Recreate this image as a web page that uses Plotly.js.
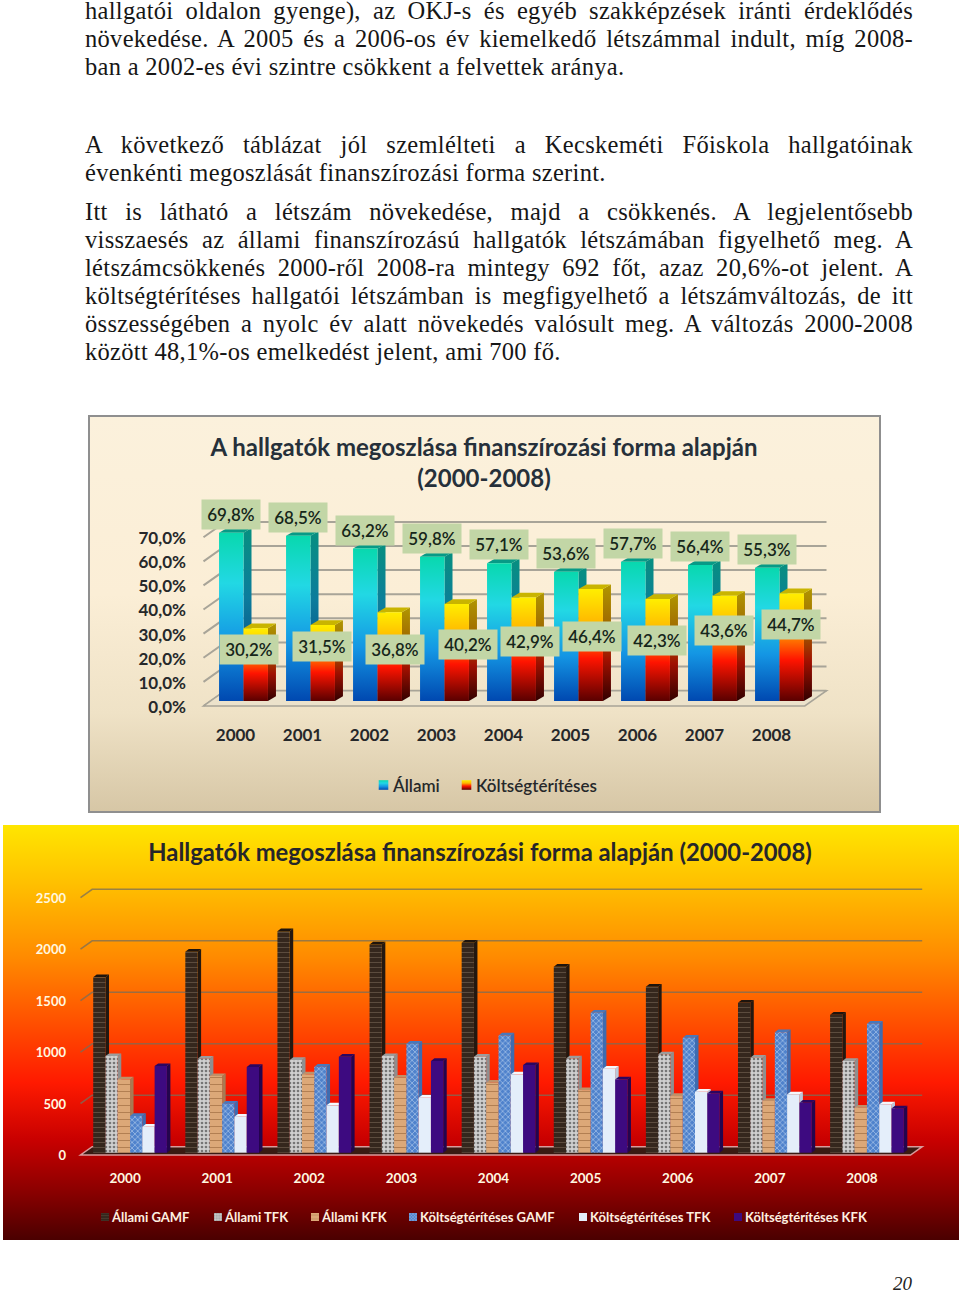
<!DOCTYPE html>
<html lang="hu">
<head>
<meta charset="utf-8">
<script src="https://cdn.plot.ly/plotly-3.0.1.min.js"></script>
<style>
html,body{margin:0;padding:0;background:#fff;width:960px;height:1291px}
.ln{position:absolute;left:85px;width:828px;height:22px;line-height:22px;font-family:"Liberation Serif",serif;font-size:24.5px;letter-spacing:.3px;color:#161616;white-space:nowrap}
.ln.j{white-space:normal;text-align:justify;text-align-last:justify}
.main-svg text{font-variant-ligatures:none}
#c1{position:absolute;left:88px;top:415px;width:793px;height:398px;box-sizing:border-box;outline:2px solid #8f8f8f;outline-offset:-2px;
 background:linear-gradient(180deg,#fbf1dc 0%,#fbeed6 45%,#efe2c6 75%,#d6c6a5 100%)}
#c2{position:absolute;left:3px;top:825px;width:956px;height:415px;
 background:linear-gradient(180deg,#ffe600 0%,#ffc000 14%,#ff8a00 32%,#ff1a00 62%,#c80000 76%,#8c0000 88%,#4a0000 100%)}
#pg{position:absolute;left:893px;top:1273px;line-height:24px;font:italic 19px "Liberation Serif",serif;color:#222}
</style>
</head>
<body>
<div id="page"></div>
<div id="c1"></div>
<div id="c2"></div>
<div id="pg">20</div>
<script>
/* ---------- page text ---------- */
const bodyLines = [
 ["hallgatói oldalon gyenge), az OKJ-s és egyéb szakképzések iránti érdeklődés",11,1],
 ["növekedése. A 2005 és a 2006-os év kiemelkedő létszámmal indult, míg 2008-",39,1],
 ["ban a 2002-es évi szintre csökkent a felvettek aránya.",67,0],
 ["A következő táblázat jól szemlélteti a Kecskeméti Főiskola hallgatóinak",145,1],
 ["évenkénti megoszlását finanszírozási forma szerint.",173,0],
 ["Itt is látható a létszám növekedése, majd a csökkenés. A legjelentősebb",212,1],
 ["visszaesés az állami finanszírozású hallgatók létszámában figyelhető meg. A",240,1],
 ["létszámcsökkenés 2000-ről 2008-ra mintegy 692 főt, azaz 20,6%-ot jelent. A",268,1],
 ["költségtérítéses hallgatói létszámban is megfigyelhető a létszámváltozás, de itt",296,1],
 ["összességében a nyolc év alatt növekedés valósult meg. A változás 2000-2008",324,1],
 ["között 48,1%-os emelkedést jelent, ami 700 fő.",352,0]
];

/* ---------- chart 1 data ---------- */
const years = ["2000","2001","2002","2003","2004","2005","2006","2007","2008"];
const allami = [69.8,68.5,63.2,59.8,57.1,53.6,57.7,56.4,55.3];
const koltseg = [30.2,31.5,36.8,40.2,42.9,46.4,42.3,43.6,44.7];
const pctTicks = [0,10,20,30,40,50,60,70];
const pctTickText = ["0,0%","10,0%","20,0%","30,0%","40,0%","50,0%","60,0%","70,0%"];
const title1 = "A hallgatók megoszlása finanszírozási forma alapján<br>(2000-2008)";
const names1 = ["Állami","Költségtérítéses"];
/* manual placement of the lower data labels, in pixels from each bar top */
const koltsegLabelDX = [5.6,11.4,17,23.6,18.7,13.5,11.7,11.3,11.7];
const koltsegLabelDY = [-21.4,-21.9,-37,-40,-44,-47,-42,-34.5,-31];

/* ---------- chart 2 data ---------- */
const allamiGAMF = [1705,1951,2152,2023,2039,1806,1612,1456,1340];
const allamiTFK  = [938,913,900,938,932,916,955,922,890];
const allamiKFK  = [712,744,760,728,680,608,550,502,437];
const koltGAMF   = [356,476,835,1058,1139,1359,1116,1171,1252];
const koltTFK    = [252,349,460,534,760,815,592,566,469];
const koltKFK    = [841,832,932,890,851,712,576,485,430];
const countTicks = [0,500,1000,1500,2000,2500];
const title2 = "Hallgatók megoszlása finanszírozási forma alapján (2000-2008)";
const names2 = ["Állami GAMF","Állami TFK","Állami KFK","Költségtérítéses GAMF","Költségtérítéses TFK","Költségtérítéses KFK"];

const FONT = "Lato, 'Open Sans', sans-serif";

const page = document.getElementById('page');
bodyLines.forEach(([t,y,j])=>{
  const d=document.createElement('div');
  d.className='ln'+(j?' j':'');
  d.style.top=(y-11)+'px';
  d.textContent=t;
  page.appendChild(d);
});

function wall(ticks, color, w, fl, bl, br, fy, by){
  return ticks.map(v=>({type:'path',layer:'below',xref:'paper',yref:'y',
    xsizemode:'pixel',ysizemode:'pixel',xanchor:0,yanchor:v,
    path:`M${fl},${fy} L${bl},${by} L${br},${by}`,
    line:{color:color,width:w}}));
}
function floor(fill, lineColor, fl, fr, bl, br, fy, by){
  return {type:'path',layer:'below',xref:'paper',yref:'y',
    xsizemode:'pixel',ysizemode:'pixel',xanchor:0,yanchor:0,
    path:`M${fl},${fy} L${fr},${fy} L${br},${by} L${bl},${by} Z`,
    fillcolor:fill,line:{color:lineColor,width:1.5}};
}

const SVGNS='http://www.w3.org/2000/svg';
function addGrad(svg,id,stops){
  let defs=svg.querySelector('defs');
  const g=document.createElementNS(SVGNS,'linearGradient');
  g.id=id;g.setAttribute('x1','0');g.setAttribute('y1','0');g.setAttribute('x2','0');g.setAttribute('y2','1');
  stops.forEach(([o,c])=>{const s=document.createElementNS(SVGNS,'stop');s.setAttribute('offset',o);s.setAttribute('stop-color',c);g.appendChild(s);});
  defs.appendChild(g);
}
function extrude(gd,dx,dy,faces){
  gd.querySelectorAll('.barlayer .trace.bars').forEach((tr,i)=>{
    tr.querySelectorAll('.point path').forEach(p=>{
      const b=p.getBBox(),x0=b.x,x1=b.x+b.width,y0=b.y,y1=b.y+b.height;
      const mk=(pts,fill)=>{const e=document.createElementNS(SVGNS,'polygon');e.setAttribute('points',pts);e.setAttribute('fill',fill);p.parentNode.insertBefore(e,p);};
      mk(`${x1},${y0} ${x1+dx},${y0-dy} ${x1+dx},${y1-dy} ${x1},${y1}`,faces[i].side);
      mk(`${x0},${y0} ${x1},${y0} ${x1+dx},${y0-dy} ${x0+dx},${y0-dy}`,faces[i].top);
    });
  });
}
/* put the library's legend items on one row at the reference's text positions */
function placeLegend(gd,textStarts,centerY,swatchShift,swatchScale){
  const lg=gd.querySelector('.legend');
  const m=/translate\(\s*([-\d.]+)[ ,]+([-\d.]+)/.exec(lg.getAttribute('transform'));
  const lx=+m[1],ly=+m[2];
  const sb=lg.querySelector('.scrollbox');
  if(sb) sb.removeAttribute('clip-path');
  lg.removeAttribute('clip-path');
  lg.querySelectorAll('.traces').forEach((t,i)=>{
    t.setAttribute('transform',`translate(${textStarts[i]-40-lx},${centerY-ly})`);
    t.querySelectorAll('.legendpoints path').forEach(p=>{
      const cur=p.getAttribute('transform')||'';
      p.setAttribute('transform',`translate(${swatchShift},0) ${cur} scale(${swatchScale})`);
    });
  });
}

/* ---------- chart 1 ---------- */
const boxColor='#c2d6a6';
const ann1=[];
years.forEach((yr,i)=>{
  ann1.push({x:i,y:allami[i],xref:'x',yref:'y',xshift:-12.3,yshift:18.5,showarrow:false,
    text:allami[i].toFixed(1).replace('.',',')+'%',bgcolor:boxColor,width:56,height:27,
    font:{family:FONT,size:17,weight:600,color:'#16261a'}});
  ann1.push({x:i,y:koltseg[i],xref:'x',yref:'y',xshift:koltsegLabelDX[i],yshift:koltsegLabelDY[i],showarrow:false,
    text:koltseg[i].toFixed(1).replace('.',',')+'%',bgcolor:boxColor,width:56,height:27,
    font:{family:FONT,size:17,weight:600,color:'#16261a'}});
});
const layout1={
  width:793,height:398,
  margin:{l:122.2,r:67.8,t:68.8,b:100.25,pad:0,autoexpand:false},
  paper_bgcolor:'rgba(0,0,0,0)',plot_bgcolor:'rgba(0,0,0,0)',
  barmode:'group',bargap:0.27,bargroupgap:0,
  title:{text:title1,font:{family:FONT,size:24,weight:700,color:'#26303a'},x:0.4994,xanchor:'center',xref:'container',y:0.897,yanchor:'top',automargin:false},
  xaxis:{type:'category',range:[-0.5,8.5],autorange:false,showgrid:false,zeroline:false,showline:false,ticks:'',ticklabelshift:-8,ticklabelstandoff:10,
    tickfont:{family:FONT,size:17,weight:700,color:'#26282a'}},
  yaxis:{range:[-5,90],tickmode:'array',tickvals:pctTicks,ticktext:pctTickText,showgrid:false,zeroline:false,showline:false,
    ticks:'',ticklabelshift:6,ticklabelstandoff:23,tickfont:{family:FONT,size:17,weight:700,color:'#26282a'}},
  shapes:[...wall(pctTicks,'#a8a498',2,-6.5,15.2,616.5,-5,10.3),
          floor('#ece2cb','#a8a498',-6.5,594.8,15.2,616.5,-5,10.3)],
  annotations:ann1,
  showlegend:true,
  legend:{orientation:'h',x:0.2,xanchor:'left',y:-0.2,yanchor:'middle',traceorder:'normal',itemwidth:30,
    font:{family:FONT,size:17,weight:600,color:'#26282a'},bgcolor:'rgba(0,0,0,0)'}
};
const data1=[
  {type:'bar',name:names1[0],x:years,y:allami,marker:{color:'#1fb4e0',line:{width:0}}},
  {type:'bar',name:names1[1],x:years,y:koltseg,marker:{color:'#ff7a00',line:{width:0}}}
];
Plotly.newPlot('c1',data1,layout1,{displayModeBar:false,staticPlot:true}).then(gd=>{
  const svg=gd.querySelector('.main-svg');
  addGrad(svg,'gA',[[0,'#08d8ae'],[0.3,'#22d8e4'],[0.65,'#1496e4'],[1,'#0048b0']]);
  addGrad(svg,'gK',[[0,'#ffee00'],[0.3,'#ffb800'],[0.62,'#ff1400'],[1,'#5a0000']]);
  addGrad(svg,'gAs',[[0,'#078f80'],[0.4,'#0c7c9c'],[1,'#063a80']]);
  addGrad(svg,'gKs',[[0,'#b09600'],[0.35,'#a06800'],[0.65,'#a01000'],[1,'#320000']]);
  const grads=['gA','gK'];
  gd.querySelectorAll('.barlayer .trace.bars').forEach((tr,i)=>{
    tr.querySelectorAll('.point path').forEach(p=>{p.style.fill=`url(#${grads[i]})`;});
  });
  extrude(gd,8,4.7,[{side:'url(#gAs)',top:'#079a86'},{side:'url(#gKs)',top:'#c9b400'}]);
  gd.querySelectorAll('.legend .traces').forEach((t,i)=>{
    t.querySelectorAll('.legendpoints path').forEach(p=>{p.style.fill=`url(#${grads[i]})`;});
  });
  placeLegend(gd,[305,388],370,10.5,0.8);
});

/* ---------- chart 2 ---------- */
const seriesStyle=[
  {color:'#35271d',pattern:{shape:'-',bgcolor:'#35271d',fgcolor:'#5c4c3e',size:5,solidity:0.2}},
  {color:'#c9c9c9',pattern:{shape:'.',bgcolor:'#cfcfcf',fgcolor:'#767676',size:4,solidity:0.35}},
  {color:'#d9a273',pattern:{shape:'-',bgcolor:'#dca878',fgcolor:'#b27f52',size:7,solidity:0.15}},
  {color:'#5d8ed6',pattern:{shape:'x',bgcolor:'#4f82cc',fgcolor:'#c4d8f0',size:4,solidity:0.25}},
  {color:'#e4eefa'},
  {color:'#3d0a80'}
];
const sideColor=['#231810','#8f8f8f','#a87a52','#3e6cb0','#b8c8da','#24054e'];
const topColor =['#1e140d','#9c9c9c','#c09068','#4878bc','#f4f8fc','#2c0660'];
const series2=[allamiGAMF,allamiTFK,allamiKFK,koltGAMF,koltTFK,koltKFK];
const data2=series2.map((vals,i)=>({type:'bar',name:names2[i],x:years,y:vals,
  marker:Object.assign({line:{width:0}},seriesStyle[i])}));
const layout2={
  width:956,height:415,
  margin:{l:80.5,r:45.5,t:59.9,b:77,pad:0,autoexpand:false},
  paper_bgcolor:'rgba(0,0,0,0)',plot_bgcolor:'rgba(0,0,0,0)',
  barmode:'group',bargap:0.2,bargroupgap:0,
  title:{text:title2,font:{family:FONT,size:23.8,weight:700,color:'#26262a'},x:0.499,xanchor:'center',xref:'container',y:0.954,yanchor:'top',automargin:false},
  xaxis:{type:'category',showgrid:false,zeroline:false,showline:false,ticks:'',ticklabelshift:-5,ticklabelstandoff:5,
    tickfont:{family:FONT,size:13.5,weight:700,color:'#fff8e0'}},
  yaxis:{range:[-100,2600],tickmode:'array',tickvals:countTicks,ticktext:countTicks.map(String),showgrid:false,zeroline:false,showline:false,
    ticks:'',ticklabelshift:3,ticklabelstandoff:17,tickfont:{family:FONT,size:13,weight:700,color:'#fff8e0'}},
  shapes:[...wall(countTicks.slice(1),'rgba(120,110,90,0.75)',1.6,-3.5,8.2,838.2,-2.3,6),
          floor('#3a1a12','#d89a9a',-3.5,826.5,8.2,838.2,-2.3,6)],
  showlegend:true,
  legend:{orientation:'h',x:0.09,xanchor:'left',y:-0.2,yanchor:'middle',traceorder:'normal',itemwidth:30,
    font:{family:FONT,size:13,weight:700,color:'#fff0e0'},bgcolor:'rgba(0,0,0,0)'}
};
Plotly.newPlot('c2',data2,layout2,{displayModeBar:false,staticPlot:true}).then(gd=>{
  extrude(gd,3.5,2.7,sideColor.map((s,i)=>({side:s,top:topColor[i]})));
  placeLegend(gd,[109,222,319,417,587,742],392,13,0.67);
});
</script>
</body>
</html>
